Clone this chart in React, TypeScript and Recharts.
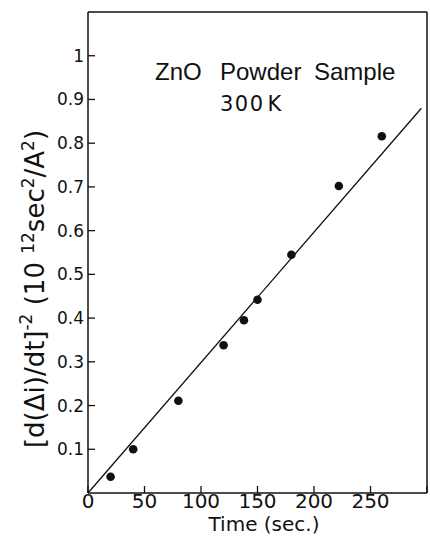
import { ScatterChart, Scatter, XAxis, YAxis, Customized } from "recharts"

// measured points (time in sec, [d(Δi)/dt]^-2 in 10^12 sec^2/A^2)
const timeSec = [20, 40, 80, 120, 138, 150, 180, 222, 260]
const signal = [0.037, 0.1, 0.211, 0.338, 0.395, 0.442, 0.545, 0.702, 0.816]

// straight fit line, two end points
const fitTime = [0, 295]
const fitSignal = [0, 0.88]

const xTicks = [0, 50, 100, 150, 200, 250, 300]
const yTicks = [0.1, 0.2, 0.3, 0.4, 0.5, 0.6, 0.7, 0.8, 0.9, 1]

const points = timeSec.map((t, i) => ({ x: t, y: signal[i] }))
const fit = fitTime.map((t, i) => ({ x: t, y: fitSignal[i] }))

const ink = "#111"
const font = "'DejaVu Sans', sans-serif"

function Texts() {
    return (
        <g fill={ink} fontFamily={font}>
            <text fontSize={24} fontFamily="'Liberation Sans', sans-serif" y={80}>
                <tspan x={155}>ZnO</tspan>
                <tspan x={220}>Powder</tspan>
                <tspan x={314}>Sample</tspan>
            </text>
            <text fontSize={21} x={220} y={111} letterSpacing={1.5}>
                300<tspan dx={3}>K</tspan>
            </text>
            <text fontSize={20} x={264} y={531} textAnchor="middle">
                Time (sec.)
            </text>
        </g>
    )
}

function YLabel() {
    const cx = 44
    const cy = 289
    return (
        <text
            fill={ink}
            fontFamily={font}
            fontSize={26}
            x={cx}
            y={cy}
            textAnchor="middle"
            transform={`rotate(-90 ${cx} ${cy})`}
        >
            [d(Δi)/dt]
            <tspan fontSize={17} dy={-12}>-2</tspan>
            <tspan dy={12}> (10 </tspan>
            <tspan fontSize={17} dy={-10}>12</tspan>
            <tspan dy={10}>sec</tspan>
            <tspan fontSize={17} dy={-10}>2</tspan>
            <tspan dy={10}>/A</tspan>
            <tspan fontSize={17} dy={-10}>2</tspan>
            <tspan dy={10}>)</tspan>
        </text>
    )
}

const blank = () => ""

export default function App() {
    return (
        <div style={{ position: "absolute", left: 0, top: 0, background: "#fff" }}>
            <ScatterChart
                width={430}
                height={539}
                margin={{ top: 0, right: 0, bottom: 0, left: 0 }}
            >
                <XAxis
                    xAxisId="b"
                    type="number"
                    dataKey="x"
                    domain={[0, 300]}
                    ticks={xTicks}
                    tickFormatter={(v: number) => (v === 300 ? "" : String(v))}
                    height={46}
                    tickSize={-7}
                    tickMargin={8}
                    axisLine={{ stroke: ink, strokeWidth: 1.5 }}
                    tickLine={{ stroke: ink, strokeWidth: 1.3 }}
                    tick={{ fill: ink, fontSize: 20, fontFamily: font }}
                />
                <XAxis
                    xAxisId="t"
                    orientation="top"
                    type="number"
                    dataKey="x"
                    domain={[0, 300]}
                    ticks={xTicks}
                    tickFormatter={blank}
                    height={12}
                    tickSize={-7}
                    axisLine={{ stroke: ink, strokeWidth: 1.5 }}
                    tickLine={{ stroke: ink, strokeWidth: 1.3 }}
                />
                <YAxis
                    yAxisId="l"
                    type="number"
                    dataKey="y"
                    domain={[0, 1.1]}
                    ticks={yTicks}
                    tickFormatter={(v: number) => (v === 1 ? "1" : v.toFixed(1))}
                    width={88}
                    tickSize={-7}
                    tickMargin={11}
                    axisLine={{ stroke: ink, strokeWidth: 1.5 }}
                    tickLine={{ stroke: ink, strokeWidth: 1.3 }}
                    tick={{ fill: ink, fontSize: 17, fontFamily: font }}
                />
                <YAxis
                    yAxisId="r"
                    orientation="right"
                    type="number"
                    dataKey="y"
                    domain={[0, 1.1]}
                    ticks={yTicks}
                    tickFormatter={blank}
                    width={3}
                    tickSize={-7}
                    axisLine={{ stroke: ink, strokeWidth: 1.5 }}
                    tickLine={{ stroke: ink, strokeWidth: 1.3 }}
                />
                <Scatter
                    xAxisId="b"
                    yAxisId="l"
                    data={fit}
                    line={{ stroke: ink, strokeWidth: 1.3 }}
                    shape={() => <g />}
                    isAnimationActive={false}
                />
                <Scatter
                    xAxisId="b"
                    yAxisId="l"
                    data={points}
                    fill={ink}
                    shape={(p: any) => <circle cx={p.cx} cy={p.cy} r={4.3} fill={ink} />}
                    isAnimationActive={false}
                />
                <Customized component={Texts} />
                <Customized component={YLabel} />
            </ScatterChart>
        </div>
    )
}
